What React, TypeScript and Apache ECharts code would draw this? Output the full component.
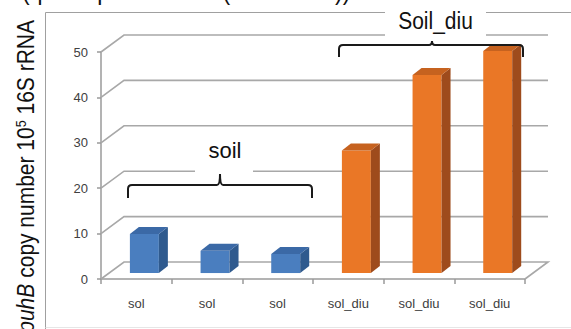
import React, { useEffect, useRef } from "react";
import * as echarts from "echarts";

const categories = ["sol", "sol", "sol", "sol_diu", "sol_diu", "sol_diu"];
const soilValues = [8.6, 4.9, 4.2];
const soilDiuValues = [27.0, 43.6, 48.9];
const yTicks = [0, 10, 20, 30, 40, 50];
const titleText = "(qPCR puhA and B (ISOLF882))";
const soilLabel = "soil";
const soilDiuLabel = "Soil_diu";

const FONT = "Liberation Sans";
const DEPTH_X = 23;
const DEPTH_Y = 17;
const BAR_FRONT = 0.35;
const BAR_DX = 9;
const BAR_DY = 7;
const GRID_COLOR = "#A8A8A8";

echarts.graphic.registerShape(
  "braceSoil",
  echarts.graphic.extendPath(
    "M1 25 L1 16 Q1 12 5 12 L90 12 Q93 12 93 1 Q93 12 96 12 L181 12 Q185 12 185 16 L185 25",
    {}
  )
);
echarts.graphic.registerShape(
  "braceDiu",
  echarts.graphic.extendPath(
    "M1 16 L1 8 Q1 4 5 4 L91 4 Q94 4 94 0 Q94 4 97 4 L181 4 Q185 4 185 8 L185 16",
    {}
  )
);

function barRenderer(colors: { front: string; side: string; top: string }) {
  return (params: any, api: any) => {
    const i = api.value(0);
    const v = api.value(1);
    const topPt = api.coord([i, v]);
    const basePt = api.coord([i, 0]);
    const w = api.size([1, 0])[0] * 0.41;
    const ox = DEPTH_X * BAR_FRONT;
    const oy = -DEPTH_Y * BAR_FRONT;
    const x0 = topPt[0] + ox - w / 2;
    const x1 = x0 + w;
    const yt = topPt[1] + oy;
    const yb = basePt[1] + oy;
    return {
      type: "group",
      children: [
        {
          type: "polygon",
          shape: { points: [[x0, yt], [x1, yt], [x1, yb], [x0, yb]] },
          style: { fill: colors.front },
        },
        {
          type: "polygon",
          shape: {
            points: [
              [x1, yt],
              [x1 + BAR_DX, yt - BAR_DY],
              [x1 + BAR_DX, yb - BAR_DY],
              [x1, yb],
            ],
          },
          style: { fill: colors.side },
        },
        {
          type: "polygon",
          shape: {
            points: [
              [x0, yt],
              [x0 + BAR_DX, yt - BAR_DY],
              [x1 + BAR_DX, yt - BAR_DY],
              [x1, yt],
            ],
          },
          style: { fill: colors.top },
        },
      ],
    };
  };
}

export default function App() {
  const ref = useRef<HTMLDivElement>(null);
  useEffect(() => {
    const chart = echarts.init(ref.current!, null, { renderer: "svg" });
    const axisLine = { color: "#9A9A9A", width: 1.5 };
    chart.setOption({
      animation: false,
      backgroundColor: "#fff",
      grid: { left: 101, right: 46, top: 52, bottom: 50 },
      xAxis: {
        type: "category",
        data: categories,
        axisLine: { show: true, lineStyle: axisLine },
        axisTick: { show: true, length: 5, lineStyle: axisLine },
        axisLabel: {
          interval: 0,
          fontSize: 13,
          color: "#404040",
          margin: 18,
          fontFamily: FONT,
        },
        splitLine: { show: false },
      },
      yAxis: {
        type: "value",
        min: 0,
        max: 50,
        interval: 10,
        axisLine: { show: true, lineStyle: axisLine },
        axisTick: { show: true, length: 4, lineStyle: axisLine },
        axisLabel: { fontSize: 13, color: "#404040", margin: 13, fontFamily: FONT },
        splitLine: { show: false },
      },
      series: [
        {
          type: "custom",
          name: "walls",
          silent: true,
          z: 1,
          encode: { x: 0, y: 1 },
          data: yTicks.map((v) => [0, v]),
          renderItem: (params: any, api: any) => {
            const v = api.value(1);
            const cs = params.coordSys;
            const y = api.coord([0, v])[1];
            const L = cs.x;
            const R = cs.x + cs.width;
            const pts: number[][] = [
              [L, y],
              [L + DEPTH_X, y - DEPTH_Y],
              [R + DEPTH_X, y - DEPTH_Y],
            ];
            if (v === 0) pts.push([R, y]);
            return {
              type: "polyline",
              shape: { points: pts },
              style: { stroke: GRID_COLOR, lineWidth: 1.6, fill: null },
            };
          },
        },
        {
          type: "custom",
          name: "soil",
          z: 3,
          encode: { x: 0, y: 1 },
          data: soilValues.map((v, i) => [i, v]),
          renderItem: barRenderer({ front: "#4A7EBF", side: "#2F5A8E", top: "#3B69A6" }),
        },
        {
          type: "custom",
          name: "Soil_diu",
          z: 3,
          encode: { x: 0, y: 1 },
          data: soilDiuValues.map((v, i) => [i + soilValues.length, v]),
          renderItem: barRenderer({ front: "#EA7726", side: "#9E4B1C", top: "#C6621F" }),
        },
      ],
      graphic: [
        {
          type: "line",
          z: 0,
          shape: { x1: 45.5, y1: 12.5, x2: 571, y2: 12.5 },
          style: { stroke: "#A0A0A0", lineWidth: 1 },
        },
        {
          type: "line",
          z: 0,
          shape: { x1: 45.5, y1: 12.5, x2: 45.5, y2: 329 },
          style: { stroke: "#A0A0A0", lineWidth: 1 },
        },
        {
          type: "line",
          z: 0,
          shape: { x1: 45.5, y1: 327.5, x2: 571, y2: 327.5 },
          style: { stroke: "#E6E6E6", lineWidth: 1 },
        },
        {
          type: "text",
          z: 60,
          x: 22,
          y: 4,
          scaleY: 1.15,
          style: {
            text: titleText,
            fontSize: 23,
            fontFamily: FONT,
            fill: "#111",
            align: "left",
            verticalAlign: "bottom",
          },
        },
        {
          type: "text",
          z: 60,
          x: 25.6,
          y: 20,
          rotation: Math.PI / 2,
          scaleY: 1.14,
          style: {
            text: "{i|puhB} copy number 10{sup|5} 16S rRNA",
            fontSize: 21,
            fontFamily: FONT,
            fill: "#111",
            align: "right",
            verticalAlign: "middle",
            rich: {
              i: { fontStyle: "italic", fontSize: 21, fontFamily: FONT, fill: "#111" },
              sup: { fontSize: 12.5, fontFamily: FONT, fill: "#111", verticalAlign: "top" },
            },
          },
        },
        {
          type: "rect",
          z: 50,
          shape: { x: 195, y: 127, width: 58, height: 45 },
          style: { fill: "#fff" },
        },
        {
          type: "text",
          z: 60,
          x: 225,
          y: 150,
          style: {
            text: soilLabel,
            fontSize: 22,
            fontFamily: FONT,
            fill: "#111",
            align: "center",
            verticalAlign: "middle",
          },
        },
        {
          type: "rect",
          z: 50,
          shape: { x: 385, y: 3, width: 101, height: 36 },
          style: { fill: "#fff" },
        },
        {
          type: "text",
          z: 60,
          x: 435.5,
          y: 21,
          scaleY: 1.12,
          style: {
            text: soilDiuLabel,
            fontSize: 21,
            fontFamily: FONT,
            fill: "#111",
            align: "center",
            verticalAlign: "middle",
          },
        },
        {
          type: "braceSoil",
          z: 60,
          x: 127,
          y: 173,
          style: { stroke: "#1A1A1A", lineWidth: 2, fill: null },
        },
        {
          type: "braceDiu",
          z: 60,
          x: 338,
          y: 41,
          style: { stroke: "#1A1A1A", lineWidth: 2, fill: null },
        },
      ],
    });
    return () => chart.dispose();
  }, []);
  return (
    <div
      ref={ref}
      style={{ position: "fixed", left: 0, top: 0, width: 571, height: 329, background: "#fff" }}
    />
  );
}
